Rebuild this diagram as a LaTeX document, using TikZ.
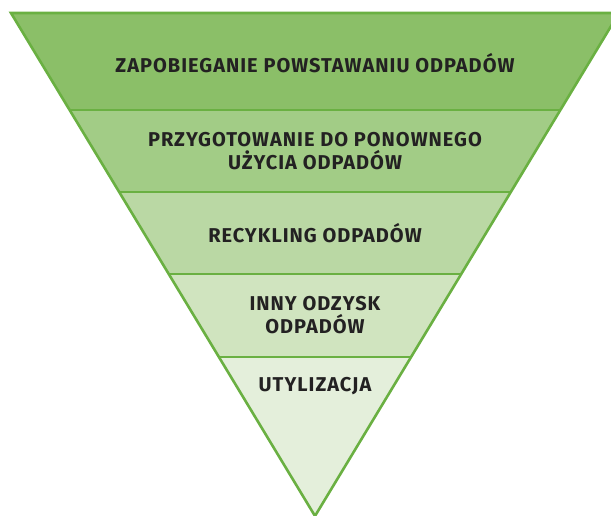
\documentclass[tikz,border=0pt]{standalone}
\usepackage{fontspec}
\setmainfont{Fira Sans}[LetterSpace=5]
\usepackage{xcolor}
\definecolor{frame_green}{RGB}{106, 176, 66}
\definecolor{band_one}{RGB}{139, 191, 104}
\definecolor{band_two}{RGB}{162, 204, 134}
\definecolor{band_three}{RGB}{186, 216, 164}
\definecolor{band_four}{RGB}{208, 228, 191}
\definecolor{band_five}{RGB}{228, 239, 219}
\definecolor{label_grey}{RGB}{35, 33, 34}
\tikzset{
	bandlabel/.style={font=\fontsize{20}{23.5}\selectfont\bfseries, text=label_grey, align=center, inner sep=0pt},
	bandline/.style={draw=frame_green, line width=1.8pt}
}

\begin{document}
\begin{tikzpicture}[x=1pt, y=-1pt]
	\useasboundingbox (0,0) rectangle (611,516);
	% bands of the pyramid
	\fill[band_one] (11,13) -- (619,13) -- (560.4,110) -- (69.6,110) -- cycle;
	\fill[band_two] (69.6,110) -- (560.4,110) -- (510.8,192) -- (119.2,192) -- cycle;
	\fill[band_three] (119.2,192) -- (510.8,192) -- (461.3,274) -- (168.7,274) -- cycle;
	\fill[band_four] (168.7,274) -- (461.3,274) -- (411.1,357) -- (218.9,357) -- cycle;
	\fill[band_five] (218.9,357) -- (411.1,357) -- (315,516) -- cycle;
	
	% dividing lines
	\draw[bandline] (69.6,110) -- (560.4,110);
	\draw[bandline] (119.2,192) -- (510.8,192);
	\draw[bandline] (168.7,274) -- (461.3,274);
	\draw[bandline] (218.9,357) -- (411.1,357);
	
	% outline
	\draw[draw=frame_green, line width=2.6pt, line join=miter] (11,13) -- (619,13) -- (315,516) -- cycle;
	
	% labels
	\node[bandlabel] (prevention) at (315,63) {ZAPOBIEGANIE POWSTAWANIU ODPADÓW};
	\node[bandlabel] (reuse) at (315,151) {PRZYGOTOWANIE DO PONOWNEGO\\UŻYCIA ODPADÓW};
	\node[bandlabel] (recycling) at (315,233) {RECYKLING ODPADÓW};
	\node[bandlabel] (recovery) at (315,315) {INNY ODZYSK\\ODPADÓW};
	\node[bandlabel] (disposal) at (315,386) {UTYLIZACJA};
\end{tikzpicture}
\end{document}
